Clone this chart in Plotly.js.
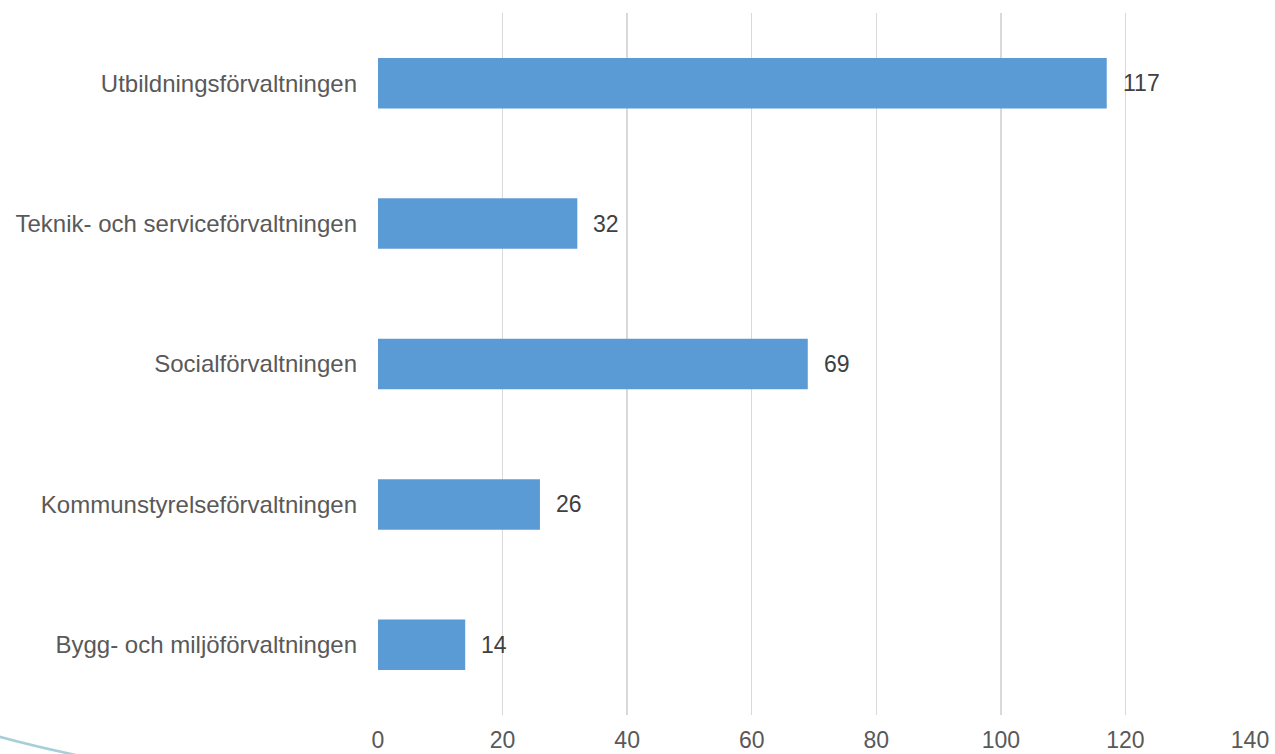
<!DOCTYPE html>
<html>
<head>
<meta charset="utf-8">
<script src="https://cdn.plot.ly/plotly-3.0.1.min.js"></script>
<style>html,body{margin:0;padding:0;background:#fff;}#chart{width:1275px;height:754px;}</style>
</head>
<body>
<div id="chart"></div>
<script>
const categories = [
  "Utbildningsförvaltningen",
  "Teknik- och serviceförvaltningen",
  "Socialförvaltningen",
  "Kommunstyrelseförvaltningen",
  "Bygg- och miljöförvaltningen"
];
const values = [117, 32, 69, 26, 14];
const xTicks = [0, 20, 40, 60, 80, 100, 120, 140];

const trace = {
  type: "bar",
  orientation: "h",
  y: categories,
  x: values,
  marker: {color: "#5B9BD5"},
  width: 0.36,
  hoverinfo: "x+y"
};

const annotations = categories.map((c, i) => ({
  x: values[i], y: c, xref: "x", yref: "y",
  text: String(values[i]), showarrow: false,
  xanchor: "left", yanchor: "middle", xshift: 14,
  font: {family: "Liberation Sans, Arial, sans-serif", size: 23, color: "#404040"}
}));

const layout = {
  width: 1275, height: 754,
  margin: {l: 378, r: 25, t: 13, b: 39},
  paper_bgcolor: "#ffffff",
  plot_bgcolor: "#ffffff",
  font: {family: "Liberation Sans, Arial, sans-serif", size: 23, color: "#595959"},
  showlegend: false,
  xaxis: {
    range: [0, 140],
    tickvals: xTicks,
    ticktext: xTicks.map(String),
    showgrid: true, gridcolor: "#d9d9d9", gridwidth: 1.5,
    zeroline: false, showline: false,
    ticks: "", ticklabelstandoff: 9,
    tickfont: {size: 23, color: "#595959"},
    fixedrange: true
  },
  yaxis: {
    type: "category",
    categoryorder: "array",
    categoryarray: categories.slice().reverse(),
    showgrid: false, zeroline: false, showline: false,
    ticks: "", ticklabelstandoff: 20,
    tickfont: {size: 24, color: "#595959"},
    fixedrange: true
  },
  annotations: annotations,
  shapes: [{
    type: "path", xref: "paper", yref: "paper",
    path: "M -0.434 -0.031 Q -0.39 -0.046 -0.335 -0.060",
    line: {color: "#a6d0d8", width: 2.5}, layer: "above"
  }]
};

Plotly.newPlot("chart", [trace], layout, {displayModeBar: false, staticPlot: true});
</script>
</body>
</html>
